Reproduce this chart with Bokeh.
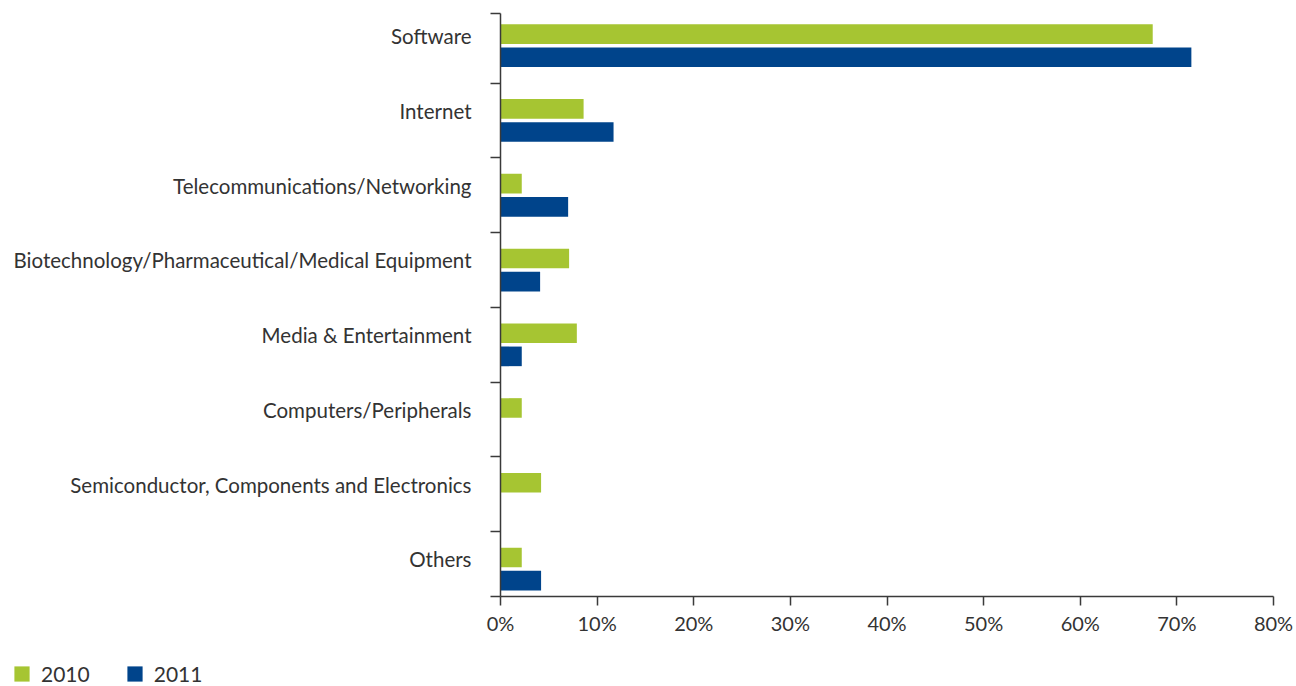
from bokeh.plotting import figure
from bokeh.layouts import column
from bokeh.models import FixedTicker, PrintfTickFormatter, Legend, LegendItem, Range1d
from bokeh.embed import file_html
from bokeh.resources import INLINE

categories = [
    "Software",
    "Internet",
    "Telecommunications/Networking",
    "Biotechnology/Pharmaceutical/Medical Equipment",
    "Media & Entertainment",
    "Computers/Peripherals",
    "Semiconductor, Components and Electronics",
    "Others",
]
series_names = ["2010", "2011"]
values_2010 = [67.5, 8.6, 2.2, 7.1, 7.9, 2.2, 4.2, 2.2]
values_2011 = [71.5, 11.7, 7.0, 4.1, 2.2, 0.0, 0.0, 4.2]
x_ticks = [0, 10, 20, 30, 40, 50, 60, 70, 80]

GREEN = "#a6c532"
BLUE = "#00448b"
AXIS = "#3a3a3a"
TEXT = "#333333"
FONT = "Lato"

n = len(categories)
ypos = [n - 1 - i for i in range(n)]  # Software on top
y_end = n - 1 + 0.431
y_start = y_end - 7.798

p = figure(width=1296, height=646, output_backend="svg", toolbar_location=None,
           x_range=Range1d(0, 80), y_range=Range1d(y_start, y_end),
           min_border_left=500, min_border_right=23, min_border_top=13, min_border_bottom=50)
p.outline_line_color = None
p.xgrid.visible = False
p.ygrid.visible = False

bh = 0.262
off = 0.155
r1 = p.hbar(y=[y + off for y in ypos], left=0, right=values_2010, height=bh,
            fill_color=GREEN, line_color=None)
r2 = p.hbar(y=[y - off for y in ypos], left=0, right=values_2011, height=bh,
            fill_color=BLUE, line_color=None)

# y axis: labels near category centres, boundary ticks drawn as minor ticks
lab_pos = [y + 0.13 for y in ypos]
bounds = [i + 0.5 for i in range(n - 1)] + [y_start, y_end]
p.yaxis.ticker = FixedTicker(ticks=lab_pos, minor_ticks=bounds)
p.yaxis.major_label_overrides = {lp: c for lp, c in zip(lab_pos, categories)}
p.yaxis.major_tick_out = 0
p.yaxis.major_tick_in = 0
p.yaxis.minor_tick_out = 10
p.yaxis.minor_tick_in = 0
p.yaxis.minor_tick_line_color = AXIS
p.yaxis.minor_tick_line_width = 1.5
p.yaxis.axis_line_color = AXIS
p.yaxis.axis_line_width = 1.5
p.yaxis.major_label_standoff = 19
p.yaxis.major_label_text_font = FONT
p.yaxis.major_label_text_font_size = "20.5px"
p.yaxis.major_label_text_color = TEXT

p.xaxis.ticker = FixedTicker(ticks=x_ticks, minor_ticks=[])
p.xaxis.formatter = PrintfTickFormatter(format="%d%%")
p.xaxis.major_tick_out = 9
p.xaxis.major_tick_in = 0
p.xaxis.major_tick_line_color = AXIS
p.xaxis.major_tick_line_width = 1.5
p.xaxis.axis_line_color = AXIS
p.xaxis.axis_line_width = 1.5
p.xaxis.major_label_standoff = 5
p.xaxis.major_label_text_font = FONT
p.xaxis.major_label_text_font_size = "20px"
p.xaxis.major_label_text_color = TEXT

# legend strip below the chart, its frame spanning the whole width
lg = figure(width=1296, height=40, output_backend="svg", toolbar_location=None,
            x_range=Range1d(0, 1), y_range=Range1d(0, 1),
            min_border=0, min_border_left=0, min_border_right=0,
            min_border_top=0, min_border_bottom=0)
for fig in (p, lg):
    if hasattr(fig, "frame_align"):
        fig.frame_align = False
lg.axis.visible = False
lg.grid.visible = False
lg.outline_line_color = None
# legend proxies (zero-size, outside the visible range)
l1 = lg.hbar(y=[-5], left=[0], right=[0], height=0.1, fill_color=GREEN, line_color=None)
l2 = lg.hbar(y=[-5], left=[0], right=[0], height=0.1, fill_color=BLUE, line_color=None)
legend = Legend(items=[LegendItem(label=series_names[0], renderers=[l1]),
                       LegendItem(label=series_names[1], renderers=[l2])],
                orientation="horizontal", location=(12, 0),
                glyph_width=19, glyph_height=19, label_standoff=10, spacing=35,
                padding=0, margin=0, border_line_color=None, background_fill_alpha=0,
                label_text_font=FONT, label_text_font_size="21px", label_text_color=TEXT)
lg.add_layout(legend, "center")

layout = column(p, lg, spacing=0)
open("out.html", "w").write(file_html(layout, INLINE))
